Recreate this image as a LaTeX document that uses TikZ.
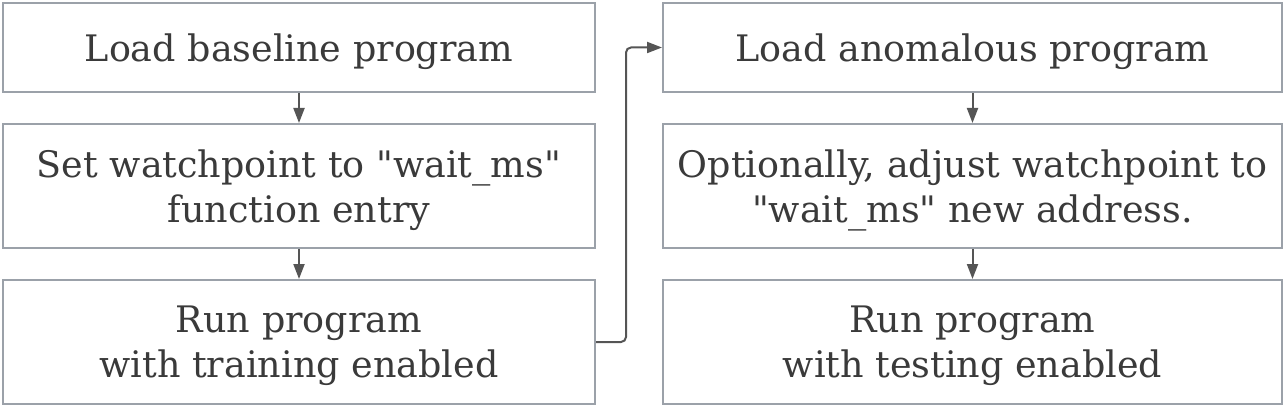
\documentclass[tikz,border=0pt]{standalone}
\usepackage{fontspec}
\setmainfont{DejaVu Serif}[Ligatures=TeXOff]
\usetikzlibrary{arrows.meta}
\definecolor{boxc}{HTML}{9BA1A9}
\definecolor{linec}{HTML}{555555}
\definecolor{txtc}{HTML}{3A3A3A}
\tikzset{
  box/.style={draw=boxc, line width=2pt, fill=white, align=center, text=txtc,
    font=\fontsize{36.5}{45}\selectfont, inner sep=0pt, text depth=0pt},
  conn/.style={draw=linec, line width=2pt, -{Triangle[length=15pt,width=11pt]}},
}
\begin{document}
\begin{tikzpicture}[x=1pt,y=-1pt]
\useasboundingbox (0,0) rectangle (1285,406);
\node[box, minimum width=592pt, minimum height=89pt] (l1) at (299,47.5) {Load baseline program};
\node[box, minimum width=592pt, minimum height=124pt] (l2) at (299,186) {Set watchpoint to "wait\_ms"\\function entry};
\node[box, minimum width=592pt, minimum height=124pt] (l3) at (299,342) {Run program\\with training enabled};
\node[box, minimum width=619pt, minimum height=89pt] (r1) at (972.5,47.5) {Load anomalous program};
\node[box, minimum width=619pt, minimum height=124pt] (r2) at (972.5,186) {Optionally, adjust watchpoint to\\"wait\_ms" new address.};
\node[box, minimum width=619pt, minimum height=124pt] (r3) at (972.5,342) {Run program\\with testing enabled};
\draw[conn] (l1.south) -- (l2.north);
\draw[conn] (l2.south) -- (l3.north);
\draw[conn] (r1.south) -- (r2.north);
\draw[conn] (r2.south) -- (r3.north);
\draw[conn, rounded corners=5pt] (l3.east) -- ++(30,0) |- (r1.west);
\end{tikzpicture}
\end{document}
